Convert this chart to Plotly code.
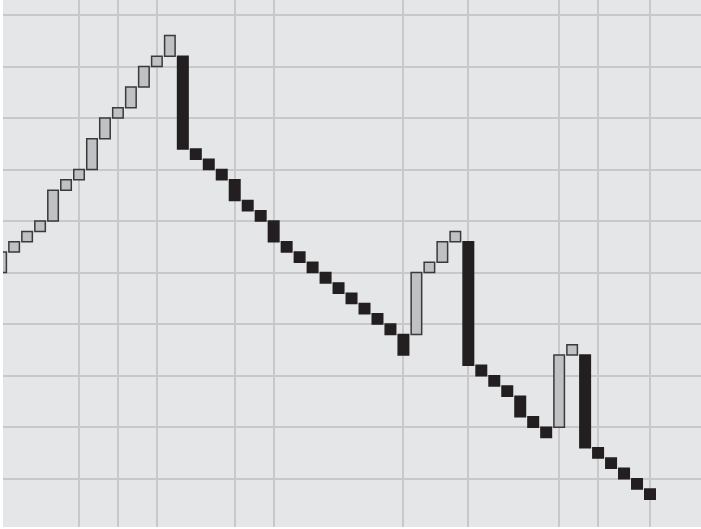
import plotly.graph_objects as go

# Line-break style bars: each bar drawn from open to close
opens = [50, 54, 56, 58, 60, 66, 68, 70, 76, 80, 82, 86, 90, 92,
         92, 74, 72, 70, 68, 64, 62, 60, 56, 54, 52, 50, 48, 46, 44, 42, 40, 38,
         38, 50, 52, 56,
         56, 32, 30, 28, 26, 22, 20,
         20, 34,
         34, 16, 14, 12, 10, 8]
closes = [54, 56, 58, 60, 66, 68, 70, 76, 80, 82, 86, 90, 92, 96,
          74, 72, 70, 68, 64, 62, 60, 56, 54, 52, 50, 48, 46, 44, 42, 40, 38, 34,
          50, 52, 56, 58,
          32, 30, 28, 26, 22, 20, 18,
          34, 36,
          16, 14, 12, 10, 8, 6]
x_idx = list(range(len(opens)))
x_grid = [6, 9, 12, 18, 21, 31, 36, 43, 46, 50]
y_grid = [10, 20, 30, 40, 50, 60, 70, 80, 90, 100]

UP_FILL = "#c0c1c4"
UP_LINE = "#3a3a3a"
DOWN_FILL = "#231f20"

fills = [UP_FILL if c > o else DOWN_FILL for o, c in zip(opens, closes)]
lines = [UP_LINE if c > o else DOWN_FILL for o, c in zip(opens, closes)]

fig = go.Figure(go.Bar(
    x=x_idx,
    y=[c - o for o, c in zip(opens, closes)],
    base=opens,
    width=0.81,
    marker=dict(color=fills, line=dict(color=lines, width=1.5)),
    hoverinfo="skip",
    showlegend=False,
))

fig.update_layout(
    width=701, height=529,
    margin=dict(l=3, r=0, t=0, b=2, pad=0),
    paper_bgcolor="#ffffff",
    plot_bgcolor="#e5e6e8",
    showlegend=False,
    xaxis=dict(range=[0.143, 53.93], tickvals=x_grid, showticklabels=False,
               ticks="", showgrid=True, gridcolor="#c8c8cc", gridwidth=1.5,
               zeroline=False, showline=False, fixedrange=True),
    yaxis=dict(range=[0.62, 102.91], tickvals=y_grid, showticklabels=False,
               ticks="", showgrid=True, gridcolor="#c8c8cc", gridwidth=1.5,
               zeroline=False, showline=False, fixedrange=True),
)

fig.write_html(
    "out.html",
    config={"displayModeBar": False},
    post_script="document.body.style.margin='0';document.body.style.padding='0';"
                "document.documentElement.style.overflow='hidden';",
)
